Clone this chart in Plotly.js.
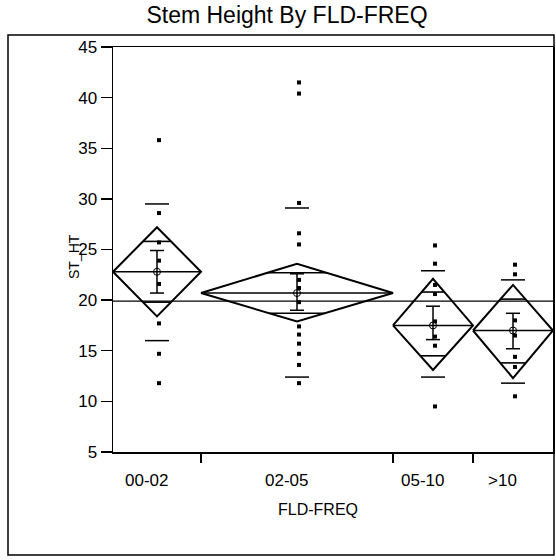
<!DOCTYPE html>
<html><head><meta charset="utf-8">
<script src="https://cdn.plot.ly/plotly-3.0.1.min.js"></script>
<style>body{margin:0;background:#fff}</style>
</head><body><div id="chart" style="width:556px;height:560px"></div>
<script>
// ---- data ----
const groups   = ['00-02', '02-05', '05-10', '>10'];
const groupN   = [11, 24, 10, 10];            // group sizes (set diamond widths)
const means    = [22.8, 20.7, 17.5, 17.0];
const ciLow    = [18.4, 17.9, 13.1, 12.3];
const ciHigh   = [27.2, 23.6, 22.1, 21.5];
const ovLow    = [19.8, 18.7, 14.5, 13.8];    // overlap marks
const ovHigh   = [25.8, 22.7, 20.8, 20.1];
const errLow   = [20.7, 19.0, 16.1, 15.2];    // mean error bars
const errHigh  = [24.9, 22.6, 19.4, 18.7];
const sdLow    = [16.0, 12.4, 12.4, 11.8];    // std dev lines
const sdHigh   = [29.5, 29.1, 22.9, 22.0];
const grandMean = 19.9;
const pts0002 = [35.8, 28.6, 25.7, 23.9, 21.6, 17.7, 14.7, 11.8];
const pts0205 = [41.5, 40.4, 29.6, 26.6, 25.5, 22.0, 21.2, 19.8, 17.4, 16.6, 15.7, 14.7, 13.6, 11.8];
const pts0510 = [25.4, 23.6, 21.5, 20.6, 17.9, 16.4, 15.5, 9.5];
const pts10   = [23.5, 22.55, 18.0, 16.5, 14.4, 13.4, 10.5];
const groupPts = [pts0002, pts0205, pts0510, pts10];
const yTicks = [5, 10, 15, 20, 25, 30, 35, 40, 45];

// ---- geometry ----
const total = groupN.reduce((a, b) => a + b, 0);
const plotW = 440;
const pxU = plotW / total;
const lefts = [], rights = [], centers = [];
let acc = 0;
groupN.forEach(n => { lefts.push(acc); rights.push(acc + n); centers.push(acc + n / 2); acc += n; });

const blk = '#000';
const FF = 'Liberation Sans, Arial, sans-serif';
const traces = [];
const dia = {x: [], y: []}, meanL = {x: [], y: []}, ov = {x: [], y: []},
      eb = {x: [], y: []}, sd = {x: [], y: []};
const capHalf = 7 / pxU, sdHalf = 12 / pxU;
groups.forEach((g, i) => {
  const L = lefts[i], R = rights[i], C = centers[i], m = means[i];
  dia.x.push(L, C, R, C, L, null); dia.y.push(m, ciHigh[i], m, ciLow[i], m, null);
  meanL.x.push(L, R, null); meanL.y.push(m, m, null);
  const hw = (R - L) / 2;
  const hwHi = hw * (1 - (ovHigh[i] - m) / (ciHigh[i] - m));
  const hwLo = hw * (1 - (m - ovLow[i]) / (m - ciLow[i]));
  ov.x.push(C - hwHi, C + hwHi, null, C - hwLo, C + hwLo, null);
  ov.y.push(ovHigh[i], ovHigh[i], null, ovLow[i], ovLow[i], null);
  eb.x.push(C, C, null, C - capHalf, C + capHalf, null, C - capHalf, C + capHalf, null);
  eb.y.push(errLow[i], errHigh[i], null, errHigh[i], errHigh[i], null, errLow[i], errLow[i], null);
  sd.x.push(C - sdHalf, C + sdHalf, null, C - sdHalf, C + sdHalf, null);
  sd.y.push(sdHigh[i], sdHigh[i], null, sdLow[i], sdLow[i], null);
});
const line = (d, w, extra) => Object.assign({type: 'scatter', mode: 'lines', x: d.x, y: d.y,
  line: {color: blk, width: w}, hoverinfo: 'skip', showlegend: false}, extra || {});

traces.push(line({x: [0, total], y: [grandMean, grandMean]}, 1.3));
traces.push(line(dia, 2));
traces.push(line(meanL, 1.6));
traces.push(line(ov, 1.6));
traces.push(line(eb, 1.5));
traces.push(line(sd, 1.5));
groups.forEach((g, i) => {
  traces.push({type: 'scatter', mode: 'markers', name: g,
    x: groupPts[i].map(() => centers[i] + 2 / pxU), y: groupPts[i],
    marker: {symbol: 'square', size: 4, color: blk}, showlegend: false});
});
traces.push({type: 'scatter', mode: 'markers', x: centers, y: means,
  marker: {symbol: 'circle-open', size: 7, color: blk, line: {width: 1}}, showlegend: false});

const py = v => (452 - v) / 405;   // pixel y -> paper
const px = v => (v - 113) / 440;   // pixel x -> paper
const annotations = groups.map((g, i) => ({
  text: g, x: centers[i], xref: 'x', y: py(481), yref: 'paper', xshift: -11,
  showarrow: false, xanchor: 'center', yanchor: 'middle',
  font: {family: FF, size: 17, color: blk}
}));
annotations.push({text: 'FLD-FREQ', x: px(318), xref: 'paper', y: py(520), yref: 'paper',
  showarrow: false, font: {family: FF, size: 16, color: blk}});
annotations.push({text: 'ST_HT', x: px(64), xref: 'paper', y: py(257), yref: 'paper', textangle: -90,
  showarrow: false, font: {family: FF, size: 14, color: blk}});

const layout = {
  width: 556, height: 560,
  margin: {l: 113, r: 3, t: 47, b: 108, pad: 0},
  paper_bgcolor: '#fff', plot_bgcolor: '#fff',
  font: {family: FF, color: blk},
  title: {text: 'Stem Height By FLD-FREQ', x: 287 / 556, xref: 'container', xanchor: 'center',
    y: 1 - 15 / 560, yref: 'container', yanchor: 'middle',
    font: {family: FF, size: 23, color: blk}},
  xaxis: {range: [0, total], tickvals: rights.slice(0, -1), ticktext: rights.slice(0, -1).map(() => ''),
    ticks: 'outside', ticklen: 9, tickwidth: 1.3, tickcolor: blk, showgrid: false, zeroline: false,
    showline: true, linecolor: blk, linewidth: 1.5, mirror: true, fixedrange: true},
  yaxis: {range: [5, 45], tickvals: yTicks, ticks: 'outside', ticklen: 11, tickwidth: 1.3, tickcolor: blk,
    tickfont: {family: FF, size: 17, color: blk}, showgrid: false, zeroline: false,
    showline: true, linecolor: blk, linewidth: 1.5, mirror: true, fixedrange: true},
  annotations: annotations,
  shapes: [{type: 'rect', xref: 'paper', yref: 'paper', x0: px(8), x1: px(554), y0: py(555), y1: py(35),
    line: {color: blk, width: 1.5}}]
};
Plotly.newPlot('chart', traces, layout, {displayModeBar: false, staticPlot: true});
</script></body></html>
